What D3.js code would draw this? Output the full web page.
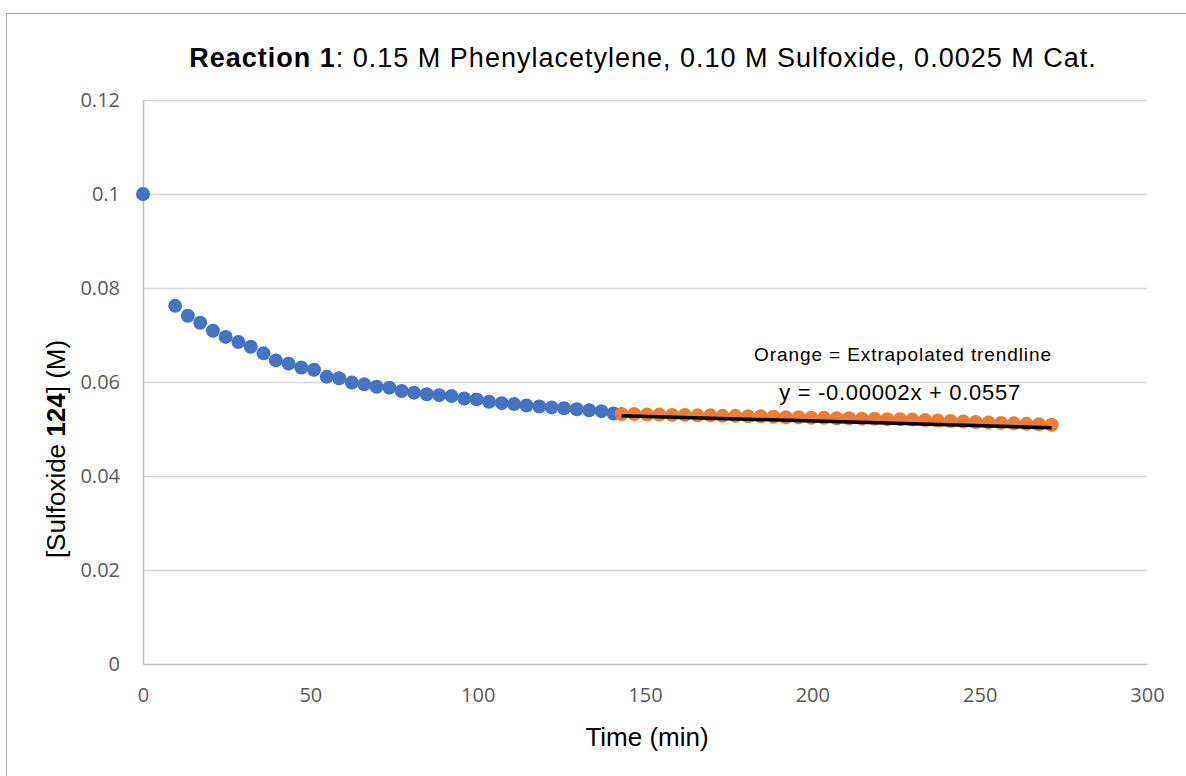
<!DOCTYPE html>
<html>
<head>
<meta charset="utf-8">
<script src="https://cdn.jsdelivr.net/npm/d3@7"></script>
<style>
  html, body { margin: 0; padding: 0; background: #fff; }
  svg { display: block; }
</style>
</head>
<body>
<svg id="chart" width="1186" height="776"></svg>
<script>
// Measured sulfoxide concentration (M) vs. time (min)
const measuredTime = [0, 9.6, 13.4, 17.1, 20.9, 24.7, 28.5, 32.2, 36.0, 39.7, 43.5, 47.3, 51.1, 54.9,
  58.6, 62.4, 66.1, 69.8, 73.6, 77.3, 81.0, 84.8, 88.5, 92.2, 96.0, 99.7, 103.4, 107.2, 110.9,
  114.6, 118.4, 122.1, 125.8, 129.6, 133.3, 137.0, 140.6];
const measuredConc = [0.1, 0.0762, 0.0741, 0.0726, 0.0709, 0.0696, 0.0685, 0.0675, 0.0661, 0.0646,
  0.0639, 0.0631, 0.0626, 0.0611, 0.0608, 0.0599, 0.0595, 0.0590, 0.0588, 0.0581, 0.0577, 0.0574,
  0.0572, 0.0570, 0.0565, 0.0563, 0.0558, 0.0555, 0.0553, 0.0550, 0.0548, 0.0546, 0.0544, 0.0542,
  0.0540, 0.0538, 0.0533];

// Extrapolated points beyond the measured window
const extrapTime = [143.0, 146.8, 150.6, 154.3, 158.1, 161.9, 165.7, 169.5, 173.2, 177.0, 180.8,
  184.6, 188.4, 192.1, 195.9, 199.7, 203.5, 207.3, 211.0, 214.8, 218.6, 222.4, 226.2, 229.9,
  233.7, 237.5, 241.3, 245.1, 248.8, 252.6, 256.4, 260.2, 264.0, 267.7, 271.5];
const extrapConc = [0.0532, 0.0532, 0.0531, 0.0531, 0.0530, 0.0530, 0.0529, 0.0529, 0.0528, 0.0528,
  0.0527, 0.0527, 0.0526, 0.0525, 0.0525, 0.0524, 0.0524, 0.0523, 0.0523, 0.0522, 0.0522, 0.0521,
  0.0521, 0.0520, 0.0519, 0.0518, 0.0517, 0.0516, 0.0515, 0.0514, 0.0513, 0.0512, 0.0511, 0.0510,
  0.0509];

// Linear trendline coefficients
const trendSlope = -0.00002;
const trendIntercept = 0.0557;

const xTicks = [0, 50, 100, 150, 200, 250, 300];
const yTicks = [0, 0.02, 0.04, 0.06, 0.08, 0.1, 0.12];

const svg = d3.select("#chart");
const plot = { left: 143, right: 1147, top: 100, bottom: 664 };
const sans = "'Liberation Sans', Arial, sans-serif";
const tickFont = "'Open Sans', sans-serif";

const x = d3.scaleLinear().domain([0, 300]).range([plot.left, plot.right]);
const y = d3.scaleLinear().domain([0, 0.12]).range([plot.bottom, plot.top]);

// Outer chart frame
svg.append("rect")
  .attr("x", 6.5).attr("y", 13.5)
  .attr("width", 1200).attr("height", 800)
  .attr("fill", "#fff").attr("stroke", "#ababab").attr("stroke-width", 1);

// Horizontal gridlines
svg.append("g")
  .selectAll("line")
  .data(yTicks.filter(d => d > 0))
  .join("line")
  .attr("x1", plot.left).attr("x2", plot.right)
  .attr("y1", d => Math.round(y(d)) + 0.5).attr("y2", d => Math.round(y(d)) + 0.5)
  .attr("stroke", "#d9d9d9").attr("stroke-width", 1.5);

// Y axis
const yAxis = svg.append("g")
  .attr("transform", `translate(${plot.left},0)`)
  .call(d3.axisLeft(y).tickValues(yTicks).tickSize(0).tickPadding(23)
    .tickFormat(d => String(+d.toFixed(2))));
yAxis.select(".domain").attr("stroke", "#bfbfbf").attr("stroke-width", 1.5);
yAxis.selectAll("text")
  .attr("fill", "#595959").style("font-family", tickFont).style("font-size", "20px");

// X axis
const xAxis = svg.append("g")
  .attr("transform", `translate(0,${plot.bottom})`)
  .call(d3.axisBottom(x).tickValues(xTicks).tickSize(0).tickPadding(24));
xAxis.select(".domain").attr("stroke", "#bfbfbf").attr("stroke-width", 1.5);
xAxis.selectAll("text")
  .attr("fill", "#595959").style("font-family", tickFont).style("font-size", "20px");

// Measured points
svg.append("g")
  .selectAll("circle")
  .data(measuredTime.map((t, i) => [t, measuredConc[i]]))
  .join("circle")
  .attr("cx", d => x(d[0])).attr("cy", d => y(d[1]))
  .attr("r", 7).attr("fill", "#4472C4");

// Extrapolated points
svg.append("g")
  .selectAll("circle")
  .data(extrapTime.map((t, i) => [t, extrapConc[i]]))
  .join("circle")
  .attr("cx", d => x(d[0])).attr("cy", d => y(d[1]))
  .attr("r", 7).attr("fill", "#ED7D31");

// Trendline over the extrapolated range
const tStart = extrapTime[0], tEnd = extrapTime[extrapTime.length - 1];
svg.append("line")
  .attr("x1", x(tStart)).attr("y1", y(trendSlope * tStart + trendIntercept))
  .attr("x2", x(tEnd)).attr("y2", y(trendSlope * tEnd + trendIntercept))
  .attr("stroke", "#000").attr("stroke-width", 3.5);

// Title
const title = svg.append("text")
  .attr("x", 643).attr("y", 67).attr("text-anchor", "middle")
  .style("font-family", sans).style("font-size", "27px").style("letter-spacing", "1px")
  .attr("fill", "#000");
title.append("tspan").attr("font-weight", "bold").text("Reaction 1");
title.append("tspan").text(": 0.15 M Phenylacetylene, 0.10 M Sulfoxide, 0.0025 M Cat.");

// Axis titles
svg.append("text")
  .attr("x", 647).attr("y", 746).attr("text-anchor", "middle")
  .style("font-family", sans).style("font-size", "26px")
  .attr("fill", "#000").text("Time (min)");

const yTitle = svg.append("text")
  .attr("transform", "translate(65,449) rotate(-90)").attr("text-anchor", "middle")
  .style("font-family", sans).style("font-size", "26px")
  .attr("fill", "#000");
yTitle.append("tspan").text("[Sulfoxide ");
yTitle.append("tspan").attr("font-weight", "bold").text("124");
yTitle.append("tspan").text("] (M)");

// Annotations
svg.append("text")
  .attr("x", 903).attr("y", 361).attr("text-anchor", "middle")
  .style("font-family", sans).style("font-size", "19px").style("letter-spacing", "0.9px")
  .attr("fill", "#000").text("Orange = Extrapolated trendline");

svg.append("text")
  .attr("x", 900).attr("y", 400).attr("text-anchor", "middle")
  .style("font-family", sans).style("font-size", "22px").style("letter-spacing", "0.7px")
  .attr("fill", "#000")
  .text(`y = ${trendSlope.toFixed(5)}x + ${trendIntercept}`);
</script>
</body>
</html>
